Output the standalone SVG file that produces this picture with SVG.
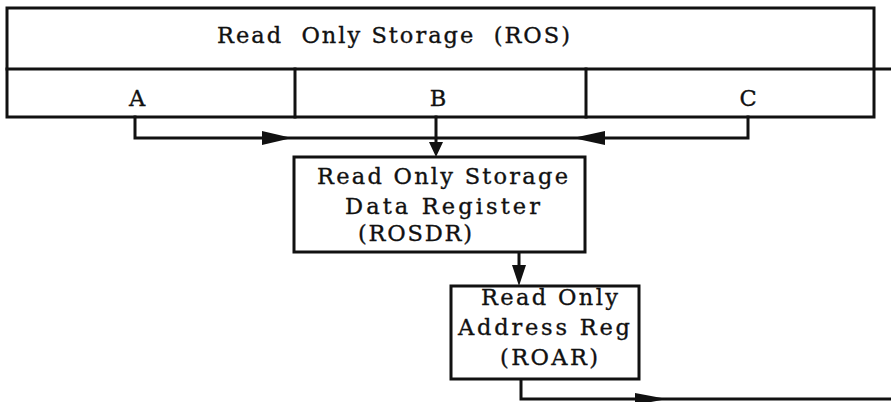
<svg xmlns="http://www.w3.org/2000/svg" width="891" height="402" viewBox="0 0 891 402">
<style>
.box{fill:#fff;stroke:#111;stroke-width:3}
.ln{fill:none;stroke:#111;stroke-width:3;stroke-linejoin:miter;stroke-linecap:square}
.head{fill:#111;stroke:none}
.t{font-family:"DejaVu Serif","Liberation Serif",serif;font-size:22.5px;fill:#111;stroke:#111;stroke-width:0.35}
.c{text-anchor:middle}
.pre{white-space:pre}
</style>
<rect width="891" height="402" fill="#fff"/>
<g id="ros">
<rect class="box" x="7" y="8" width="867" height="109"/>
<line class="ln" x1="7" y1="69" x2="891" y2="69"/>
<line class="ln" x1="295" y1="69" x2="295" y2="117"/>
<line class="ln" x1="586" y1="69" x2="586" y2="117"/>
<text class="t pre" xml:space="preserve" x="217" y="43" textLength="353" lengthAdjust="spacing">Read  Only Storage  (ROS)</text>
<text class="t c" x="137" y="106">A</text>
<text class="t c" x="438" y="106">B</text>
<text class="t c" x="748" y="106">C</text>
</g>
<g id="connectors">
<polyline class="ln" points="135,117 135,138 748,138 748,117"/>
<line class="ln" x1="436" y1="117" x2="436" y2="150"/>
<line class="ln" x1="519" y1="252" x2="519" y2="275"/>
<polyline class="ln" points="521,379 521,399 891,399"/>
<polygon class="head" points="262,131 292,138 262,145"/>
<polygon class="head" points="605,131 573,138 605,145"/>
<polygon class="head" points="429,142 443,142 436,157"/>
<polygon class="head" points="512,265 526,265 519,286"/>
<polygon class="head" points="635,393 667,399 635,405"/>
</g>
<g id="rosdr">
<rect class="box" x="294" y="157" width="291" height="95"/>
<text class="t" x="317" y="184" textLength="251" lengthAdjust="spacing">Read Only Storage</text>
<text class="t" x="345" y="214" textLength="195" lengthAdjust="spacing">Data Register</text>
<text class="t" x="358" y="241" textLength="114" lengthAdjust="spacing">(ROSDR)</text>
</g>
<g id="roar">
<rect class="box" x="451" y="286" width="188" height="93"/>
<text class="t" x="481" y="305" textLength="137" lengthAdjust="spacing">Read Only</text>
<text class="t" x="458" y="335" textLength="172" lengthAdjust="spacing">Address Reg</text>
<text class="t" x="500" y="365" textLength="98" lengthAdjust="spacing">(ROAR)</text>
</g>
</svg>
